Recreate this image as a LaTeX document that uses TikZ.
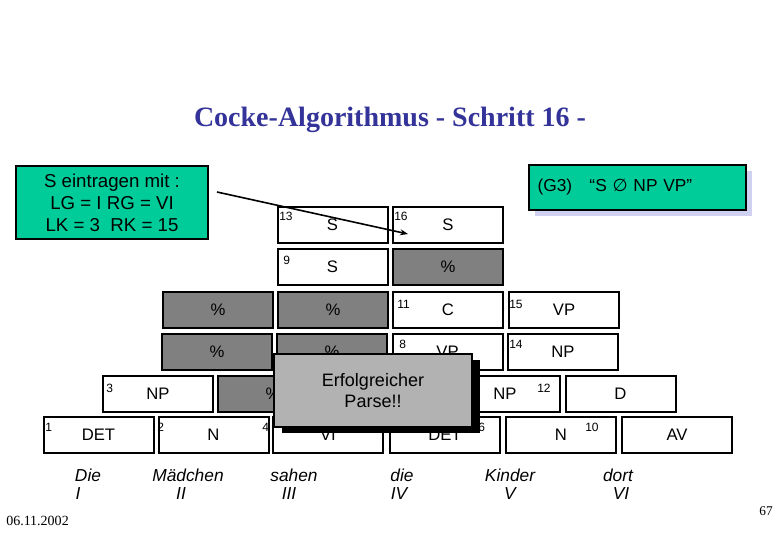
\documentclass[tikz,border=0pt]{standalone}
\usepackage{fontspec}
\setmainfont{Liberation Sans}
\newfontfamily\serifrm{Liberation Serif}
\newfontfamily\djv{DejaVu Sans}
\usetikzlibrary{calc,arrows.meta}
\definecolor{tealg}{RGB}{0,204,153}
\definecolor{lav}{RGB}{208,208,240}
\definecolor{titleblue}{RGB}{51,51,153}
\definecolor{cellgray}{RGB}{128,128,128}
\definecolor{popgray}{RGB}{178,178,178}
\begin{document}
\begin{tikzpicture}[x=0.75pt,y=-0.75pt,
  cell/.style={draw, line width=1.5pt, minimum width=82.5pt, minimum height=27pt, inner sep=0pt, fill=white, font=\fontsize{12.5}{14}\selectfont},
  dead/.style={cell, fill=cellgray},
  num/.style={anchor=west, inner sep=0pt, font=\fontsize{9}{10}\selectfont},
  word/.style={inner sep=0pt, font=\fontsize{13}{15}\selectfont\itshape},
  greenbox/.style={draw, line width=1.5pt, fill=tealg, inner sep=0pt},
  conn/.style={line width=1.2pt, -{Stealth[length=6pt,width=4.5pt]}}]
\useasboundingbox (0,0) rectangle (780,540);
% title
\node[text=titleblue, font=\serifrm\bfseries\fontsize{21}{24}\selectfont] (title) at (390,120) {Cocke-Algorithmus - Schritt 16 -};
% green boxes
\node[greenbox, minimum width=144pt, minimum height=54.75pt, align=center, font=\fontsize{14}{16.5}\selectfont] (info) at (112,202.5) {S eintragen mit :\\LG = I RG = VI\\LK = 3\ \ RK = 15};
\fill[lav] (535,171) rectangle (752,216);
\node[greenbox, minimum width=162.75pt, minimum height=33.75pt, text width=150pt, align=left, font=\fontsize{13}{16}\selectfont] (rule) at (637.5,187.5) {(G3)\ \ \ “S {\djv ∅} NP VP”};
% row 7
\node[cell] (c13) at (332.5,225) {S};
\node[cell] (c16) at (448,225) {S};
% row 6
\node[cell] (c9) at (332.5,266.5) {S};
\node[dead] (g6) at (448,266.5) {\%};
% row 5
\node[dead] (g5a) at (218,309.5) {\%};
\node[dead] (g5b) at (333,309.5) {\%};
\node[cell] (c11) at (448,309.5) {C};
\node[cell] (c15) at (564,309.5) {VP};
% row 4
\node[dead] (g4a) at (217,351.5) {\%};
\node[dead] (g4b) at (332,351.5) {\%};
\node[cell] (c8) at (447.5,351.5) {VP};
\node[cell] (c14) at (563,351.5) {NP};
% row 3
\node[cell] (c3) at (158,394) {NP};
\node[dead] (g3) at (273,394) {\%};
\node[cell] (c12) at (505,394) {NP};
\node[cell] (cD) at (620.5,394) {D};
% row 1
\node[cell] (c1) at (98.5,435) {DET};
\node[cell] (c2) at (213.5,435) {N};
\node[cell] (c4) at (328,435) {VI};
\node[cell] (c6) at (445,435) {DET};
\node[cell] (c10) at (561,435) {N};
\node[cell] (cAV) at (677,435) {AV};
% numbers
\node[num] (n13) at (279,216) {13};
\node[num] (n16) at (394,216) {16};
\node[num] (n9) at (283,260) {9};
\node[num] (n11) at (397,304) {11};
\node[num] (n15) at (509,304) {15};
\node[num] (n8) at (399,344) {8};
\node[num] (n14) at (509,344) {14};
\node[num] (n3) at (106,388) {3};
\node[num] (n12) at (537,388) {12};
\node[num] (n1) at (45,427) {1};
\node[num] (n2) at (157,427) {2};
\node[num] (n4) at (262,427) {4};
\node[num] (n6) at (478,427) {6};
\node[num] (n10) at (585,427) {10};
% words
\node[word] (w1) at (88,475) {Die};
\node[word] (r1) at (78,494) {I};
\node[word] (w2) at (188,475) {Mädchen};
\node[word] (r2) at (181,494) {II};
\node[word] (w3) at (294,475) {sahen};
\node[word] (r3) at (289,494) {III};
\node[word] (w4) at (402,475) {die};
\node[word] (r4) at (399,494) {IV};
\node[word] (w5) at (510,475) {Kinder};
\node[word] (r5) at (510,494) {V};
\node[word] (w6) at (618,475) {dort};
\node[word] (r6) at (621,494) {VI};
% connector
\coordinate (aS) at (217,192);
\coordinate (aE) at (408,234);
\draw[conn] (aS) -- (aE);
% popup
\fill (282,360) rectangle (480,433);
\node[draw, line width=1.5pt, fill=popgray, minimum width=148.5pt, minimum height=54.75pt, inner sep=0pt, align=center, font=\fontsize{13.5}{15.75}\selectfont] (pop) at (373,390.5) {Erfolgreicher\\Parse!!};
% footer
\node[font=\serifrm\fontsize{10.5}{12}\selectfont, anchor=west, inner sep=0pt] (date) at (6,521) {06.11.2002};
\node[font=\serifrm\fontsize{10}{12}\selectfont, inner sep=0pt] (page) at (766,511) {67};
\end{tikzpicture}
\end{document}
